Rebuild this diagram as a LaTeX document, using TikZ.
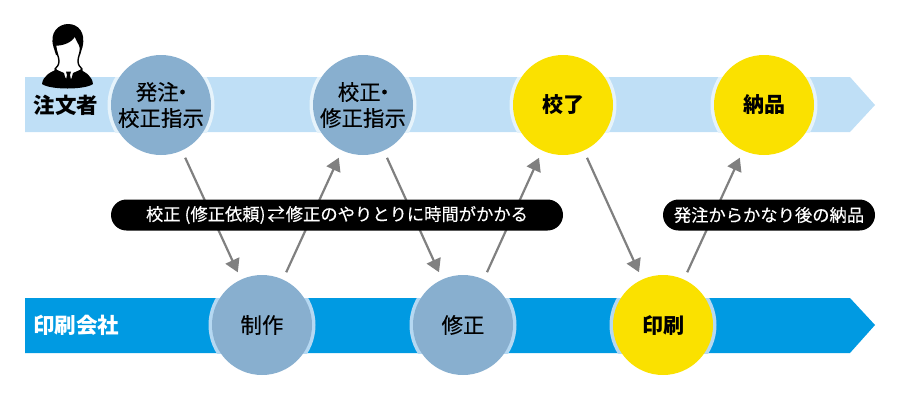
\documentclass[tikz,border=0pt]{standalone}
\usepackage{fontspec}
\setmainfont{Noto Sans CJK JP}
\newfontface\mediumface[FakeBold=0.25]{Noto Sans CJK JP}
\usetikzlibrary{arrows.meta}
\definecolor{paleband}{HTML}{BFDFF6}
\definecolor{palering}{HTML}{E6F3FB}
\definecolor{deepband}{HTML}{009AE2}
\definecolor{deepring}{HTML}{B5D8F2}
\definecolor{stepblue}{HTML}{88AFCF}
\definecolor{stepyellow}{HTML}{FAE100}
\definecolor{flowgrey}{HTML}{808080}
\tikzset{
  stepdisc/.style={circle,minimum size=100pt,inner sep=0pt,outer sep=8pt,align=center,font=\fontsize{21.5pt}{26pt}\mediumface,text=black},
  bluedisc/.style={stepdisc,fill=stepblue},
  yellowdisc/.style={stepdisc,fill=stepyellow,font=\fontsize{21pt}{26pt}\selectfont\bfseries},
  flow/.style={-{Triangle[length=13pt,width=15pt]},line width=2.2pt,color=flowgrey},
  remark/.style={rounded corners=15.5pt,fill=black,text=white,minimum height=31pt,inner sep=0pt,font=\fontsize{17.3pt}{17.3pt}\mediumface},
  bandlabel/.style={font=\fontsize{21.5pt}{21.5pt}\selectfont\bfseries,inner sep=0pt}
}
\newcommand{\tightdot}{\kern-7pt・\kern-7pt}
\begin{document}
\begin{tikzpicture}[x=1pt,y=-1pt]
\useasboundingbox (0,0) rectangle (900,400);
\fill[paleband] (25,77) -- (850,77) -- (875,105) -- (850,132) -- (25,132) -- cycle;
\fill[deepband] (25,298) -- (850,298) -- (875,325) -- (850,353) -- (25,353) -- cycle;
% rings only show on the bands
\begin{scope}
\clip (25,77) rectangle (850,132);
\foreach \x in {161,363,563,764} {
\fill[palering] (\x,105) circle (53.5);
}
\end{scope}
\begin{scope}
\clip (25,298) rectangle (850,353);
\foreach \x in {262,463,663} {
\fill[deepring] (\x,325) circle (53.5);
}
\end{scope}
% person
\fill[black] (42,84) .. controls (43,76) and (50,72) .. (58,69) -- (78,69) .. controls (86,72) and (92,76) .. (93,84) .. controls (85,90) and (50,90) .. (42,84) -- cycle;
\fill[black] (53.5,47) .. controls (49,32) and (59,24) .. (68,24) .. controls (78,24) and (86,32) .. (82.5,47) -- (80,55) -- (56,55) -- cycle;
\draw[black,fill=white,line width=1.4pt,line join=round] (55.5,45) .. controls (63,45) and (72,42) .. (75,35) .. controls (76,40) and (80,44) .. (80.5,48) .. controls (80.5,53) and (78,57) .. (78,61) .. controls (78,65) and (80,67) .. (82,69) -- (69,82) -- (55,69) .. controls (57,67) and (59,65) .. (59,61) .. controls (59,57) and (56,52) .. (55.5,45) -- cycle;
\fill[black] (55,69) -- (64,73) -- (67,84) -- (50,84) -- cycle;
\fill[black] (82,69) -- (73,73) -- (70,84) -- (88,84) -- cycle;
\fill[black] (66,71.5) -- (71,71.5) -- (70,75) -- (71.5,82) -- (68.5,85) -- (65.5,82) -- (67,75) -- cycle;
\node[bandlabel] (buyer) at (66,105) {注文者};
\node[bandlabel,text=white] (printer) at (76,325) {印刷会社};
\node[bluedisc] (order) at (161,105) {発注\tightdot\\校正指示};
\node[bluedisc] (proof) at (363,105) {校正\tightdot\\修正指示};
\node[yellowdisc] (done) at (563,105) {校了};
\node[yellowdisc] (deliver) at (764,105) {納品};
\node[bluedisc] (make) at (262,325) {制作};
\node[bluedisc] (fix) at (463,325) {修正};
\node[yellowdisc] (press) at (663,325) {印刷};
\draw[flow] (order) -- (make);
\draw[flow] (make) -- (proof);
\draw[flow] (proof) -- (fix);
\draw[flow] (fix) -- (done);
\draw[flow] (done) -- (press);
\draw[flow] (press) -- (deliver);
\node[remark,minimum width=452pt] (slow) at (337,215) {校正\kern4pt(修正依頼)\kern2pt⇄\kern1pt修正のやりとりに時間がかかる};
\node[remark,minimum width=212pt] (late) at (769,215) {発注からかなり後の納品};
\end{tikzpicture}
\end{document}
